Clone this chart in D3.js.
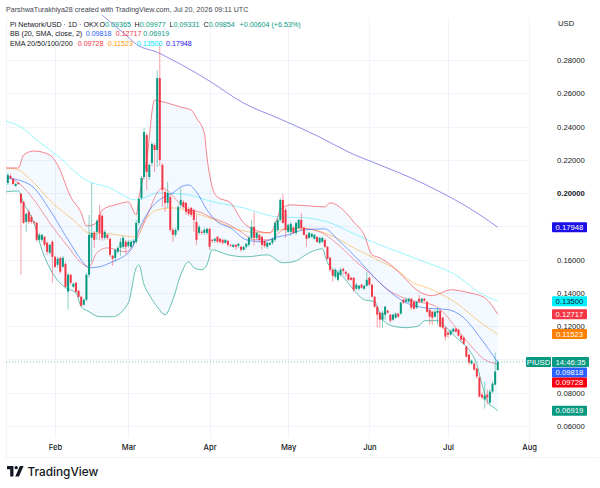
<!DOCTYPE html>
<html>
<head>
<meta charset="utf-8">
<script src="https://cdn.jsdelivr.net/npm/d3@7/dist/d3.min.js"></script>
<style>
  html, body { margin: 0; padding: 0; background: #fff; }
  svg { display: block; font-family: "Liberation Sans", Arial, sans-serif; }
</style>
</head>
<body>
<div id="chart"></div>
<script>
// PIUSD daily candles, first session 14 Jan 2026, one entry per day
const firstDay = "2026-01-14";
const opens = [
.2061,.2103,.2085,.2043,.2061,.1995,.1947,.1827,.1887,.1857,
.1827,.1821,.1719,.1719,.1737,.1701,.1641,.1707,.1617,.1569,
.1611,.1557,.1575,.1407,.1509,.1437,.1461,.1413,.1377,.1329,
.1359,.1509,.1731,.1761,.1767,.1869,.1863,.1731,.1749,.1725,
.1623,.1611,.1647,.1671,.1677,.1707,.1683,.1677,.1701,.1707,
.1821,.1971,.2097,.2349,.2097,.2181,.2289,.2259,.2691,.2169,
.2007,.1941,.1977,.1779,.1749,.1779,.1929,.1947,.1941,.1905,
.1911,.1899,.1827,.1761,.1767,.1761,.1761,.1785,.1719,.1713,
.1737,.1725,.1719,.1701,.1713,.1689,.1677,.1689,.1683,.1677,
.1659,.1677,.1689,.1731,.1797,.1731,.1749,.1737,.1713,.1677,
.1689,.1701,.1719,.1779,.1839,.1959,.1899,.1767,.1767,.1791,
.1761,.1791,.1839,.1791,.1749,.1731,.1737,.1725,.1737,.1701,
.1707,.1719,.1677,.1611,.1539,.1497,.1479,.1509,.1545,.1527,
.1515,.1491,.1491,.1425,.1425,.1449,.1425,.1443,.1491,.1449,
.1377,.1317,.1281,.1239,.1269,.1293,.1269,.1239,.1251,.1275,
.1275,.1359,.1347,.1347,.1365,.1347,.1311,.1365,.1347,.1365,
.1347,.1299,.1287,.1257,.1281,.1293,.1251,.1191,.1161,.1149,
.1167,.1185,.1179,.1143,.1131,.1077,.1029,.0975,.0975,.0945,
.0891,.0789,.0759,.0789,.0741,.0807,.0849,.09365];
const closes = [
.2109,.2091,.2055,.2055,.2055,.1941,.1821,.1875,.1827,.1827,
.1821,.1719,.1749,.1749,.1689,.1647,.1689,.1617,.1557,.1605,
.1527,.1611,.1437,.1509,.1461,.1455,.1407,.1377,.1323,.1359,
.1509,.1749,.1761,.1719,.1833,.1761,.1731,.1767,.1731,.1629,
.1605,.1659,.1671,.1707,.1731,.1677,.1707,.1707,.1713,.1821,
.1965,.2091,.2367,.2127,.2169,.2295,.2259,.2691,.2199,.2019,
.1941,.2001,.1779,.1749,.1779,.1917,.1959,.1917,.1887,.1875,
.1869,.1839,.1719,.1797,.1761,.1779,.1785,.1677,.1713,.1725,
.1707,.1707,.1701,.1719,.1689,.1683,.1689,.1677,.1695,.1659,
.1677,.1695,.1731,.1797,.1731,.1761,.1719,.1689,.1683,.1701,
.1701,.1725,.1821,.1839,.1959,.1821,.1779,.1809,.1815,.1761,
.1821,.1839,.1791,.1749,.1725,.1761,.1755,.1749,.1707,.1731,
.1731,.1677,.1605,.1539,.1503,.1539,.1521,.1539,.1533,.1515,
.1479,.1479,.1419,.1449,.1443,.1431,.1443,.1479,.1449,.1377,
.1317,.1269,.1239,.1281,.1317,.1281,.1233,.1269,.1275,.1257,
.1341,.1341,.1359,.1365,.1311,.1305,.1347,.1347,.1365,.1353,
.1287,.1257,.1251,.1287,.1293,.1197,.1191,.1137,.1149,.1173,
.1185,.1167,.1143,.1119,.1095,.1017,.0981,.0993,.0939,.0897,
.0777,.0771,.0783,.0771,.0807,.0855,.0927,.09854];
const highs = [
.2121,.2115,.2091,.2061,.2067,.2001,.1953,.1881,.1899,.1869,
.1833,.1827,.1761,.1755,.1743,.1707,.1695,.1719,.1623,.1617,
.1617,.1623,.1587,.1521,.1515,.1461,.1467,.1419,.1383,.1365,
.1521,.1869,.2061,.1773,.1845,.1929,.1875,.1779,.1755,.1731,
.1629,.1665,.1683,.1731,.1743,.1719,.1719,.1719,.1725,.1839,
.1971,.2103,.2391,.2361,.2181,.2307,.2301,.2739,.2895,.2181,
.2019,.2067,.1989,.1791,.1791,.1929,.2031,.1959,.1947,.1917,
.1917,.1905,.1869,.1809,.1779,.1791,.1791,.1791,.1725,.1731,
.1743,.1731,.1725,.1725,.1719,.1695,.1695,.1695,.1701,.1683,
.1683,.1701,.1743,.1839,.1887,.1767,.1755,.1743,.1719,.1707,
.1707,.1731,.1833,.1851,.1971,.1995,.1911,.1815,.1827,.1803,
.1827,.1845,.1881,.1797,.1755,.1767,.1761,.1755,.1743,.1737,
.1737,.1725,.1683,.1617,.1545,.1551,.1539,.1551,.1551,.1533,
.1521,.1497,.1497,.1461,.1449,.1455,.1449,.1527,.1497,.1455,
.1383,.1323,.1287,.1293,.1323,.1299,.1275,.1275,.1281,.1281,
.1347,.1365,.1371,.1371,.1371,.1353,.1353,.1389,.1371,.1371,
.1353,.1305,.1293,.1299,.1311,.1299,.1257,.1197,.1173,.1179,
.1191,.1191,.1185,.1149,.1137,.1083,.1035,.0999,.0981,.0951,
.0903,.0801,.0867,.0819,.0819,.0867,.1041,.09977];
const lows = [
.2049,.2085,.2049,.2037,.2049,.1509,.1815,.1767,.1815,.1815,
.1815,.1707,.1713,.1707,.1677,.1629,.1629,.1461,.1551,.1551,
.1515,.1551,.1431,.1299,.1449,.1431,.1401,.1371,.1317,.1323,
.1347,.1491,.1587,.1671,.1719,.1719,.1713,.1719,.1719,.1617,
.1563,.1587,.1635,.1623,.1665,.1635,.1671,.1671,.1683,.1695,
.1809,.1959,.2085,.2019,.2079,.2163,.2127,.2157,.2163,.1917,
.1887,.1911,.1767,.1707,.1737,.1767,.1911,.1905,.1869,.1863,
.1857,.1767,.1689,.1749,.1749,.1749,.1749,.1659,.1701,.1701,
.1701,.1695,.1689,.1695,.1677,.1677,.1671,.1659,.1671,.1647,
.1653,.1665,.1677,.1719,.1683,.1719,.1707,.1659,.1671,.1665,
.1683,.1689,.1707,.1767,.1827,.1815,.1731,.1761,.1743,.1755,
.1749,.1785,.1779,.1743,.1677,.1725,.1731,.1719,.1701,.1695,
.1701,.1671,.1599,.1527,.1467,.1485,.1467,.1497,.1509,.1497,
.1473,.1473,.1407,.1419,.1413,.1425,.1419,.1437,.1443,.1371,
.1311,.1191,.1191,.1191,.1239,.1275,.1221,.1233,.1245,.1251,
.1269,.1335,.1341,.1341,.1299,.1299,.1305,.1341,.1341,.1347,
.1281,.1209,.1209,.1251,.1209,.1191,.1179,.1113,.1131,.1143,
.1161,.1161,.1137,.1113,.1089,.1011,.0969,.0969,.0933,.0885,
.0771,.0759,.0705,.0729,.0729,.0795,.0843,.09331];

// Indicator readings: session number (0 = first candle) and level at that session
const bbUpperDays = [-1,4,6,10,16,19,24,28,30,34,36,41,46,49,50,53,56,58,66,70,72,75,76,78,80,85,90,94,100,103,104,108,115,121,123,128,132,136,139,142,147,151,156,162,169,176,182,187];
const bbUpper = [.2151,.2151,.2229,.2253,.2229,.2169,.1977,.1881,.1803,.1821,.1899,.1929,.1947,.1869,.1971,.2199,.2559,.2553,.2517,.2499,.2451,.2361,.2217,.2037,.1977,.1941,.1821,.1779,.1761,.1857,.1899,.1929,.1923,.1917,.1941,.1899,.1827,.1749,.1629,.1611,.1557,.1497,.1419,.1383,.1419,.1401,.1371,.12717];
const bbMidDays = [0,4,10,16,23,28,31,35,39,47,50,55,59,63,66,69,72,76,80,85,91,97,103,107,113,121,126,133,142,150,152,159,168,174,180,187];
const bbMid = [.2091,.2079,.2031,.1899,.1719,.1599,.1551,.1557,.1581,.1659,.1779,.1917,.1971,.2001,.2037,.2049,.2007,.1899,.1827,.1791,.1719,.1707,.1737,.1749,.1779,.1785,.1719,.1611,.1461,.1359,.1341,.1311,.1299,.1251,.1137,.09818];
const bbLowerDays = [-1,4,6,10,13,17,22,26,28,31,35,40,46,49,50,52,54,57,60,63,66,69,71,74,76,78,84,91,99,105,109,115,120,122,128,132,136,140,143,148,152,157,159,164,167,172,176,179,181,183,186,187];
const bbLower = [.2007,.2013,.1941,.1821,.1659,.1521,.1431,.1401,.1317,.1287,.1257,.1257,.1341,.1551,.1569,.1449,.1389,.1317,.1269,.1359,.1509,.1587,.1551,.1539,.1569,.1659,.1629,.1617,.1629,.1581,.1587,.1641,.1665,.1581,.1497,.1419,.1359,.1347,.1239,.1197,.1191,.1203,.1233,.1233,.1197,.1119,.1059,.0969,.0849,.0747,.0705,.06919];
const ema20Days = [0,5,10,16,23,28,31,34,38,45,49,53,57,59,62,65,69,73,78,83,89,94,100,105,111,119,127,133,138,145,150,156,162,166,171,177,182,187];
const ema20 = [.2097,.2049,.1959,.1821,.1677,.1581,.1557,.1641,.1671,.1647,.1719,.1857,.2001,.2031,.2001,.1947,.1899,.1887,.1851,.1821,.1767,.1719,.1719,.1779,.1791,.1767,.1677,.1587,.1521,.1419,.1377,.1347,.1329,.1287,.1191,.1077,.0999,.09728];
const ema50Days = [-1,3,10,17,25,31,39,48,53,57,63,71,77,85,92,99,105,113,123,132,141,150,153,162,171,180,187];
const ema50 = [.2151,.2145,.2061,.1941,.1839,.1761,.1755,.1737,.1851,.1899,.1911,.1881,.1851,.1797,.1767,.1761,.1785,.1785,.1749,.1671,.1599,.1521,.1479,.1419,.1341,.1227,.11523];
const ema100Days = [-1,5,12,20,29,39,49,53,57,69,77,90,103,114,123,133,142,150,157,172,180,187];
const ema100 = [.2433,.2397,.2307,.2211,.2085,.2031,.1959,.1977,.2001,.1989,.1953,.1911,.1857,.1851,.1821,.1749,.1689,.1641,.1599,.1497,.1401,.135];
const ema200Days = [36,46,49,57,63,70,77,90,104,119,130,142,154,165,176,187];
const ema200 = [.3069,.2937,.2895,.2847,.2799,.2739,.2673,.2541,.2445,.2337,.2247,.2169,.2091,.2007,.1911,.17948];

// Axis ticks; the .10 and .18 labels sit behind price tags, so only their gridlines are drawn
const priceTicks = [.06,.08,.10,.12,.14,.16,.18,.20,.22,.24,.26,.28];
const priceLabels = [.06,.08,.12,.14,.16,.20,.22,.24,.26,.28];
const monthTicks = ["2026-02-01","2026-03-01","2026-04-01","2026-05-01","2026-06-01","2026-07-01","2026-08-01"];

// Price-scale tags
const tagLabels = ["0.17948","0.13500","0.12717","0.11523","0.09818","0.09728","0.06919"];
const tagLevels = [.17948,.135,.12717,.11523,.09818,.09728,.06919];
const tagColors = ["#1c0fe6","#00f0ff","#f23645","#ff8000","#2962ff","#f7000c","#089981"];
const tagInk = ["#fff","#131722","#fff","#fff","#fff","#fff","#fff"];

const UP = "#089981", DOWN = "#f23645";
const W = 600, H = 488;
const plot = { left: 6, right: 529, top: 15, bottom: 438, axisBottom: 457 };

const parseDay = d3.utcParse("%Y-%m-%d");
const start = parseDay(firstDay);
const dayOf = i => d3.utcDay.offset(start, i);

const x = d3.scaleUtc()
  .domain([parseDay("2026-02-01"), parseDay("2026-08-01")])
  .range([55, 529.2]);
const y = d3.scaleLinear().domain([.06, .28]).range([426, 60]);

const svg = d3.select("#chart").append("svg").attr("width", W).attr("height", H);

svg.append("defs").append("clipPath").attr("id", "pane")
  .append("rect")
  .attr("x", plot.left).attr("y", plot.top)
  .attr("width", plot.right - plot.left).attr("height", plot.bottom - plot.top);

// Pane frame and gridlines
const grid = svg.append("g").attr("stroke", "#f0f3fa").attr("stroke-width", 1);
grid.selectAll("line.h").data(priceTicks).join("line").attr("class", "h")
  .attr("x1", plot.left).attr("x2", plot.right)
  .attr("y1", d => Math.round(y(d)) + .5).attr("y2", d => Math.round(y(d)) + .5);
grid.selectAll("line.v").data(monthTicks.map(parseDay)).join("line").attr("class", "v")
  .attr("y1", plot.top + 3).attr("y2", plot.bottom)
  .attr("x1", d => Math.round(x(d)) + .5).attr("x2", d => Math.round(x(d)) + .5);
grid.append("path")
  .attr("fill", "none")
  .attr("d", `M${plot.left + .5},${plot.top + 3}V${plot.axisBottom + .5}H${W - 1}M${plot.right + .5},${plot.top + 3}V${plot.axisBottom}`);

const pane = svg.append("g").attr("clip-path", "url(#pane)");

const lineGen = d3.line().x(d => x(d[0])).y(d => y(d[1])).curve(d3.curveMonotoneX);
const pts = (days, vals) => days.map((d, i) => [dayOf(d), vals[i]]);

// Bollinger band fill between the upper and lower envelopes
const upperPts = pts(bbUpperDays, bbUpper);
const lowerPts = pts(bbLowerDays, bbLower);
pane.append("path")
  .attr("d", lineGen(upperPts) + "L" + lineGen(lowerPts.slice().reverse()).slice(1) + "Z")
  .attr("fill", "#2196f3").attr("fill-opacity", .055);

// Indicator lines
const studies = [
  { days: ema100Days, vals: ema100, color: "#00e5ff", op: .4 },
  { days: ema200Days, vals: ema200, color: "#3d2fd9", op: .55 },
  { days: ema50Days, vals: ema50, color: "#ff9800", op: .45 },
  { days: bbUpperDays, vals: bbUpper, color: "#f23645", op: .6 },
  { days: bbLowerDays, vals: bbLower, color: "#089981", op: .6 },
  { days: ema20Days, vals: ema20, color: "#f23645", op: .5 },
  { days: bbMidDays, vals: bbMid, color: "#2962ff", op: .6 }
];
pane.selectAll("path.study").data(studies).join("path").attr("class", "study")
  .attr("d", s => lineGen(pts(s.days, s.vals)))
  .attr("fill", "none").attr("stroke", s => s.color)
  .attr("stroke-opacity", s => s.op).attr("stroke-width", 1);

// Candles
const candles = opens.map((o, i) => ({ day: dayOf(i), o, h: highs[i], l: lows[i], c: closes[i] }));
const candleG = pane.selectAll("g.candle").data(candles).join("g").attr("class", "candle")
  .attr("fill", d => d.c >= d.o ? UP : DOWN)
  .attr("stroke", d => d.c >= d.o ? UP : DOWN);
candleG.append("line")
  .attr("x1", d => x(d.day)).attr("x2", d => x(d.day))
  .attr("y1", d => y(d.h)).attr("y2", d => y(d.l))
  .attr("stroke-width", .8).attr("stroke-opacity", .6);
candleG.append("rect")
  .attr("x", d => x(d.day) - 1).attr("width", 2)
  .attr("y", d => y(Math.max(d.o, d.c)))
  .attr("height", d => Math.max(.8, Math.abs(y(d.o) - y(d.c))))
  .attr("stroke", "none");

// Last-price guide
const lastClose = closes[closes.length - 1];
svg.append("line")
  .attr("x1", plot.left).attr("x2", 526)
  .attr("y1", y(lastClose)).attr("y2", y(lastClose))
  .attr("stroke", UP).attr("stroke-opacity", .7)
  .attr("stroke-width", .8).attr("stroke-dasharray", "1 2");

// Price axis
const yAxis = svg.append("g").attr("transform", "translate(551,0)")
  .call(d3.axisRight(y).tickValues(priceLabels).tickFormat(d3.format(".5f")).tickSize(0).tickPadding(6));
yAxis.select(".domain").remove();
yAxis.selectAll("text")
  .attr("font-family", "'Liberation Sans', sans-serif").attr("font-size", 7.7).attr("fill", "#131722")
  .attr("font-weight", d => d === .20 ? 700 : 400);

// Time axis
const xAxis = svg.append("g").attr("transform", `translate(0,${plot.bottom})`)
  .call(d3.axisBottom(x).tickValues(monthTicks.map(parseDay)).tickFormat(d3.utcFormat("%b")).tickSize(0).tickPadding(7));
xAxis.select(".domain").remove();
xAxis.selectAll("text")
  .attr("font-family", "Inter, sans-serif").attr("font-size", 7.6).attr("font-weight", 500).attr("fill", "#131722");

// Price tags; the two closest to the last price are stacked beneath its tag
const tagBox = (g, x0, w, cy, fill, ink, label) => {
  g.append("rect").attr("x", x0).attr("y", cy - 5).attr("width", w).attr("height", 10).attr("rx", 1).attr("fill", fill);
  g.append("text").attr("x", x0 + w / 2).attr("y", cy).attr("dy", ".35em").attr("text-anchor", "middle")
    .attr("font-size", 7.7).attr("fill", ink).text(label);
};
const tags = svg.append("g");
const tagNudge = [0, 0, 0, 0, 10, 18.4, 0];
tagLabels.forEach((t, i) => tagBox(tags, 552, 35, y(tagLevels[i]) + tagNudge[i], tagColors[i], tagInk[i], t));
tagBox(tags, 526, 25, y(lastClose), "#089981", "#fff", "PIUSD");
tagBox(tags, 552, 37, y(lastClose), "#089981", "#fff", "14:46:35");

svg.append("text").attr("x", 558).attr("y", 23).attr("dy", ".35em")
  .attr("font-size", 7.7).attr("fill", "#131722").text("USD");

// Attribution line and study legend: each row is one text made of coloured runs
const INK = "#131722";
const addRow = (py, runs) => {
  const t = svg.append("text").attr("y", py).attr("dy", ".35em").attr("font-size", 7.15).attr("xml:space", "preserve");
  runs.forEach(([px, str, fill]) => t.append("tspan").attr("x", px).attr("fill", fill).text(str));
};

addRow(9, [[6, "ParshwaTurakhiya28 created with TradingView.com, Jul 20, 2026 09:11 UTC", "#434651"]]);
addRow(24, [
  [10, "Pi Network/USD · 1D · OKX", INK],
  [99.5, "O", INK], [105.1, "0.09365", UP],
  [134.5, "H", INK], [139.8, "0.09977", UP],
  [169.5, "L", INK], [173.6, "0.09331", UP],
  [203.5, "C", INK], [208.8, "0.09854", UP],
  [239.5, "+0.00604 (+6.53%)", UP]
]);
addRow(33.6, [
  [10, "BB (20, SMA, close, 2)", INK],
  [85.7, "0.09818", "#2962ff"],
  [115.7, "0.12717", DOWN],
  [143.3, "0.06919", UP]
]);
addRow(43.4, [
  [10, "EMA 20/50/100/200", INK],
  [77.7, "0.09728", DOWN],
  [107.7, "0.11523", "#ff9800"],
  [136.7, "0.13500", "#00e5ff"],
  [166, "0.17948", "#1c0fe6"]
]);

// TradingView wordmark
const logo = svg.append("g").attr("transform", "translate(7,466) scale(.46)").attr("fill", "#131722");
logo.append("path").attr("d", "M14 0H0v7h7v16h7V0Z");
logo.append("circle").attr("cx", 20).attr("cy", 3.6).attr("r", 3.6);
logo.append("path").attr("d", "M36 0 26 23h-8L28 0h8Z");
svg.append("text").attr("x", 27.5).attr("y", 471.5).attr("dy", ".35em")
  .attr("font-family", "Inter, sans-serif")
  .attr("font-size", 11.8).attr("font-weight", 500).attr("fill", "#131722").text("TradingView");
</script>
</body>
</html>
